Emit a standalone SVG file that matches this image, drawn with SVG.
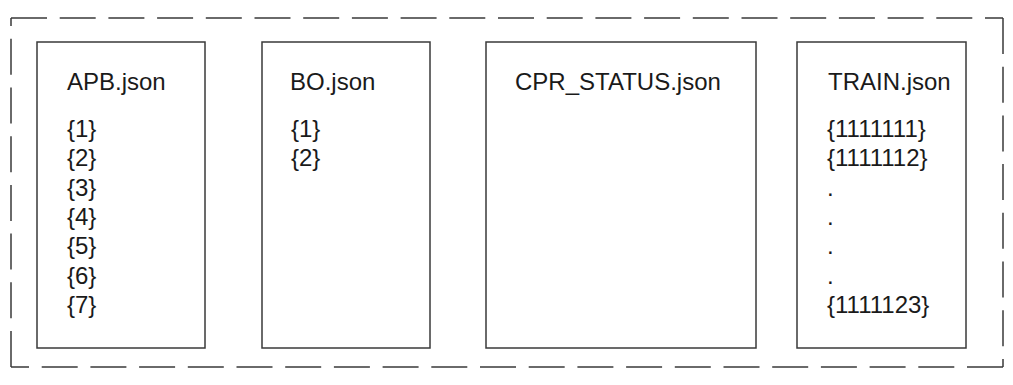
<svg xmlns="http://www.w3.org/2000/svg" width="1013" height="385" viewBox="0 0 1013 385">
  <style>
    .frame { fill: none; stroke: #3a3a3a; stroke-width: 1.5; stroke-dasharray: 36 12.7; }
    .box { fill: #ffffff; stroke: #3a3a3a; stroke-width: 1.5; }
    .t { font-family: "Liberation Sans", Arial, sans-serif; font-size: 24px; fill: #1a1a1a; }
  </style>
  <rect width="1013" height="385" fill="#ffffff"/>
  <g id="frame">
    <line class="frame" x1="11" y1="18" x2="1003" y2="18"/>
    <line class="frame" x1="1003" y1="18" x2="1003" y2="367"/>
    <line class="frame" x1="1003" y1="367" x2="11" y2="367"/>
    <line class="frame" x1="11" y1="367" x2="11" y2="18"/>
  </g>
  <g id="connectors"></g>
  <g id="apb">
    <rect class="box" x="37" y="42" width="168" height="306"/>
    <text class="t" x="67" y="90">APB.json</text>
    <text class="t" x="67" y="137">{1}</text>
    <text class="t" x="67" y="166.3">{2}</text>
    <text class="t" x="67" y="195.6">{3}</text>
    <text class="t" x="67" y="224.9">{4}</text>
    <text class="t" x="67" y="254.2">{5}</text>
    <text class="t" x="67" y="283.5">{6}</text>
    <text class="t" x="67" y="312.8">{7}</text>
  </g>
  <g id="bo">
    <rect class="box" x="262" y="42" width="168" height="306"/>
    <text class="t" x="290" y="90">BO.json</text>
    <text class="t" x="291" y="137">{1}</text>
    <text class="t" x="291" y="166.3">{2}</text>
  </g>
  <g id="cpr_status">
    <rect class="box" x="486" y="42" width="270" height="306"/>
    <text class="t" x="515" y="90">CPR_STATUS.json</text>
  </g>
  <g id="train">
    <rect class="box" x="797" y="42" width="169" height="306"/>
    <text class="t" x="828" y="90">TRAIN.json</text>
    <text class="t" x="827" y="137">{1111111}</text>
    <text class="t" x="827" y="166.3">{1111112}</text>
    <text class="t" x="827" y="195.6">.</text>
    <text class="t" x="827" y="224.9">.</text>
    <text class="t" x="827" y="254.2">.</text>
    <text class="t" x="827" y="283.5">.</text>
    <text class="t" x="827" y="312.8">{1111123}</text>
  </g>
</svg>
